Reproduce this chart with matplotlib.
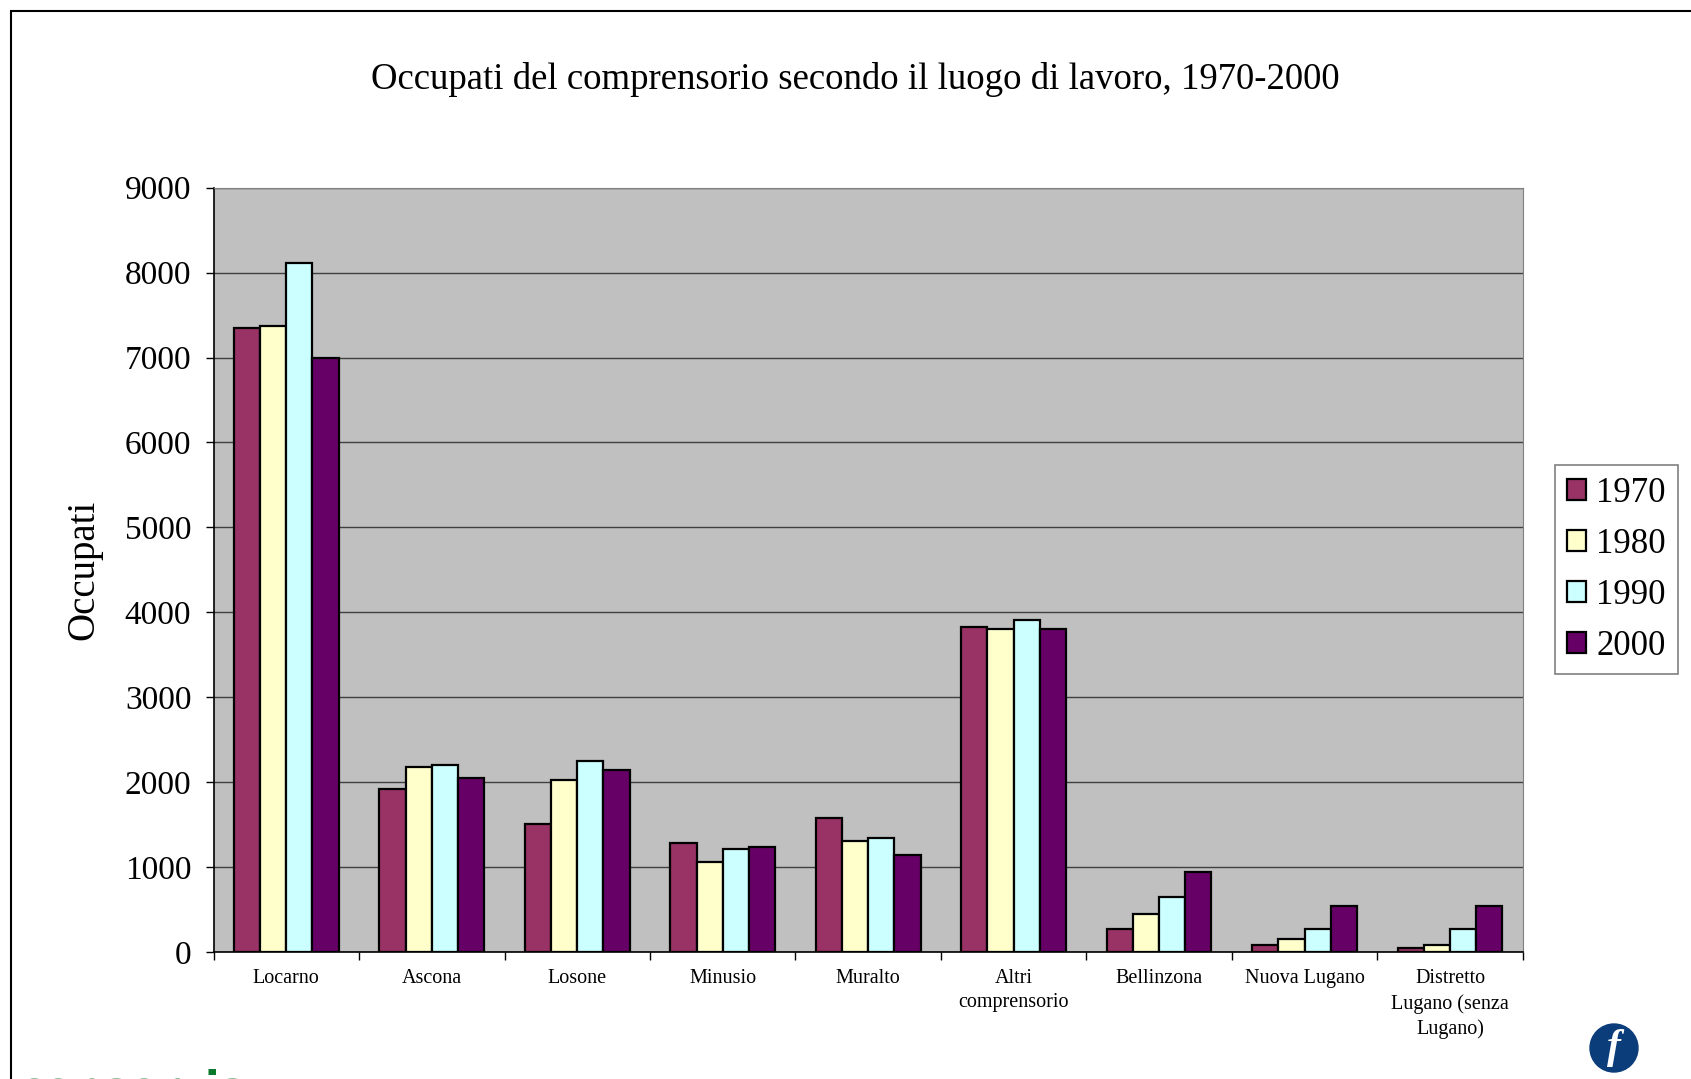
import numpy as np
import matplotlib.pyplot as plt
from matplotlib.patches import Rectangle, Ellipse

# Data
luoghi = ['Locarno', 'Ascona', 'Losone', 'Minusio', 'Muralto',
          'Altri\ncomprensorio', 'Bellinzona', 'Nuova Lugano',
          'Distretto\nLugano (senza\nLugano)']
anni = ['1970', '1980', '1990', '2000']
occ_1970 = [7350, 1925, 1510, 1285, 1585, 3830, 275, 80, 50]
occ_1980 = [7375, 2175, 2030, 1065, 1310, 3805, 450, 155, 80]
occ_1990 = [8110, 2205, 2250, 1215, 1340, 3905, 645, 275, 275]
occ_2000 = [7000, 2050, 2150, 1240, 1140, 3810, 945, 545, 545]
serie = [occ_1970, occ_1980, occ_1990, occ_2000]
colori = ['#993366', '#FFFFCC', '#CCFFFF', '#660066']

plt.rcParams['font.family'] = ['Liberation Serif', 'DejaVu Serif']

W, H = 1691, 1079
fig = plt.figure(figsize=(W / 100, H / 100), dpi=100)
ax = fig.add_axes([0.1263, 0.1175, 0.9005 - 0.1263, 0.8261 - 0.1175])

# outer frame of the chart area
fig.patches.append(Rectangle((11 / W, -0.05), 1.2, 1 - 11 / H + 0.05,
                             transform=fig.transFigure, fill=False,
                             edgecolor='black', linewidth=1.5))

x = np.arange(len(luoghi))
w = 0.18
for i, (vals, col, anno) in enumerate(zip(serie, colori, anni)):
    ax.bar(x + (i - 1.5) * w, vals, width=w, color=col, edgecolor='black',
           linewidth=1.6, label=anno, zorder=3)

ax.set_facecolor('#C0C0C0')
ax.set_xlim(-0.5, len(luoghi) - 0.5)
ax.set_ylim(0, 9000)
ax.set_yticks(range(0, 9001, 1000))
ax.tick_params(axis='y', labelsize=24, length=6, width=1, pad=10)
ax.yaxis.grid(True, color='#404040', linewidth=1, zorder=1)

ax.set_xticks(x)
ax.set_xticklabels(luoghi, fontsize=14.5, linespacing=1.4)
ax.tick_params(axis='x', length=0, pad=12)
ax.set_xticks(np.arange(-0.5, len(luoghi)), minor=True)
ax.tick_params(axis='x', which='minor', length=6, width=1)

for s in ['top', 'right']:
    ax.spines[s].set_color('#808080')
ax.spines['left'].set_linewidth(1.2)
ax.spines['bottom'].set_linewidth(1.2)

ax.set_ylabel('Occupati', fontsize=28, labelpad=16)
fig.text(0.5057, 0.926, 'Occupati del comprensorio secondo il luogo di lavoro, 1970-2000',
         ha='center', va='center', fontsize=26.5)

leg = ax.legend(loc='center left', bbox_to_anchor=(1.025, 0.5), fontsize=25,
                frameon=True, fancybox=False, edgecolor='#606060',
                borderaxespad=0, handlelength=0.55, handleheight=0.55,
                handletextpad=0.3, labelspacing=0.52, borderpad=0.33)
leg.get_frame().set_linewidth(1.2)

# logos at the bottom
fig.text(18 / W, -0.0205, 'consorzis', color='#0B7A2E', fontsize=31,
         fontweight='bold', family='DejaVu Sans', ha='left', va='baseline')
cx, cy = 1614 / W, 1 - 1048 / H
fig.patches.append(Ellipse((cx, cy), 48 / W, 48 / H, transform=fig.transFigure,
                           color='#0B3D7A'))
fig.text(cx, cy, 'f', color='white', fontsize=30, style='italic',
         fontweight='bold', ha='center', va='center')

fig.savefig('out.png', dpi=100)
